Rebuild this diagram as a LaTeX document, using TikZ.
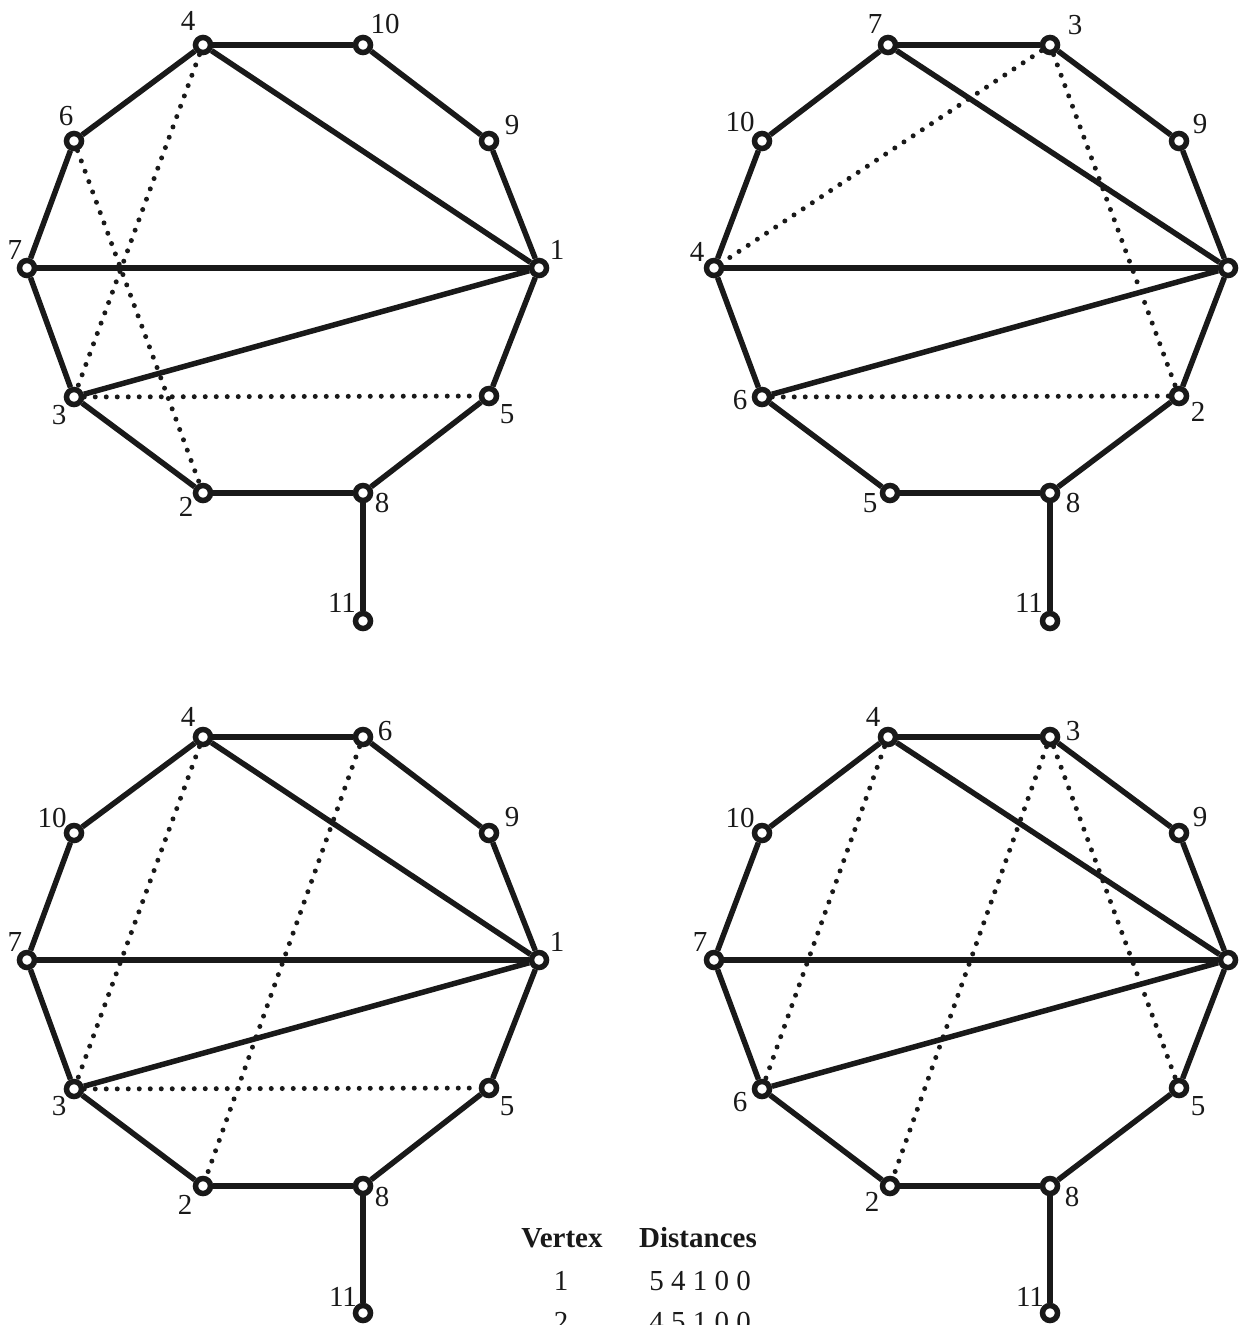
\documentclass[tikz,border=0pt]{standalone}
\usepackage{fontspec}
\setmainfont{Liberation Serif}

\begin{document}
\begin{tikzpicture}[
    x=1pt, y=-1pt,
    vertex/.style={
        circle,
        draw=black!90,
        fill=white,
        line width=5.5pt,
        minimum size=15pt,
        inner sep=0pt
    },
    num/.style={
        font=\fontsize{29}{29}\selectfont,
        text=black!90,
        inner sep=0pt
    },
    head/.style={
        font=\fontsize{29}{29}\selectfont\bfseries,
        text=black!90,
        inner sep=0pt
    },
    edge/.style={
        line width=5.5pt,
        draw=black!90
    },
    dots/.style={
        line width=5pt,
        line cap=round,
        draw=black!90,
        dash pattern=on 0pt off 11pt
    }
]

    \useasboundingbox (0,0) rectangle (1240,1325);
    \clip (0,0) rectangle (1240,1325);

    % top left
    \foreach \n/\x/\y/\lx/\ly in {
        4/203/45/188/21, 10/363/45/385/24, 9/489/141/512/125,
        1/539/268/557/250, 5/489/396/507/414, 8/363/493/382/503,
        2/203/493/186/507, 3/74/397/59/415, 7/27/268/15/250,
        6/74/141/66/116, 11/363/621/342/603}{
        \node[vertex] (a\n) at (\x,\y) {};
        \node[num] (la\n) at (\lx,\ly) {\n};
    }
    \foreach \u/\v in {
        4/10,10/9,9/1,1/5,5/8,8/2,2/3,3/7,7/6,6/4,8/11,4/1,7/1,3/1}{
        \draw[edge] (a\u) -- (a\v);
    }
    \foreach \u/\v in {4/3,6/2,3/5}{
        \draw[dots] (a\u) -- (a\v);
    }

    % top right
    \foreach \n/\x/\y/\lx/\ly in {
        7/888/45/875/24, 3/1050/45/1075/25, 9/1179/141/1200/124,
        1/1228/268/1246/250, 2/1179/396/1198/412, 8/1050/493/1073/503,
        5/890/493/870/503, 6/762/397/740/400, 4/714/268/697/252,
        10/762/141/740/122, 11/1050/621/1029/603}{
        \node[vertex] (b\n) at (\x,\y) {};
        \node[num] (lb\n) at (\lx,\ly) {\n};
    }
    \foreach \u/\v in {
        7/3,3/9,9/1,1/2,2/8,8/5,5/6,6/4,4/10,10/7,8/11,7/1,4/1,6/1}{
        \draw[edge] (b\u) -- (b\v);
    }
    \foreach \u/\v in {3/4,3/2,6/2}{
        \draw[dots] (b\u) -- (b\v);
    }

    % bottom left
    \foreach \n/\x/\y/\lx/\ly in {
        4/203/737/188/717, 6/363/737/385/731, 9/489/833/512/817,
        1/539/960/557/942, 5/489/1088/507/1106, 8/363/1186/382/1197,
        2/203/1186/185/1205, 3/74/1089/59/1106, 7/27/960/15/942,
        10/74/833/52/818, 11/363/1313/343/1297}{
        \node[vertex] (c\n) at (\x,\y) {};
        \node[num] (lc\n) at (\lx,\ly) {\n};
    }
    \foreach \u/\v in {
        4/6,6/9,9/1,1/5,5/8,8/2,2/3,3/7,7/10,10/4,8/11,4/1,7/1,3/1}{
        \draw[edge] (c\u) -- (c\v);
    }
    \foreach \u/\v in {4/3,6/2,3/5}{
        \draw[dots] (c\u) -- (c\v);
    }

    % bottom right
    \foreach \n/\x/\y/\lx/\ly in {
        4/888/737/873/717, 3/1050/737/1073/731, 9/1179/833/1200/817,
        1/1228/960/1246/942, 5/1179/1088/1198/1106, 8/1050/1186/1072/1197,
        2/890/1186/872/1202, 6/762/1089/740/1102, 7/714/960/700/942,
        10/762/833/740/818, 11/1050/1313/1030/1297}{
        \node[vertex] (d\n) at (\x,\y) {};
        \node[num] (ld\n) at (\lx,\ly) {\n};
    }
    \foreach \u/\v in {
        4/3,3/9,9/1,1/5,5/8,8/2,2/6,6/7,7/10,10/4,8/11,4/1,7/1,6/1}{
        \draw[edge] (d\u) -- (d\v);
    }
    \foreach \u/\v in {4/6,3/2,3/5}{
        \draw[dots] (d\u) -- (d\v);
    }

    % table
    \node[head] (hvert) at (562,1238) {Vertex};
    \node[head] (hdist) at (698,1238) {Distances};
    \node[num] (v1) at (561,1281) {1};
    \node[num] (dist1) at (700,1281) {5 4 1 0 0};
    \node[num] (v2) at (561,1322) {2};
    \node[num] (dist2) at (700,1322) {4 5 1 0 0};

\end{tikzpicture}
\end{document}
